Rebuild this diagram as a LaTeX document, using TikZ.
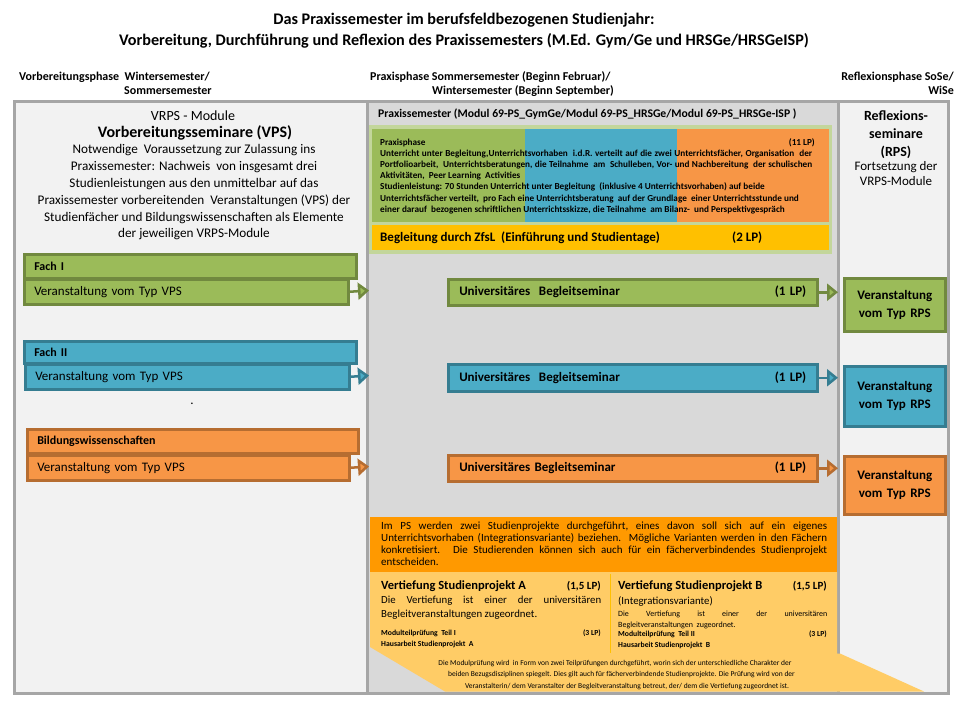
\documentclass[tikz,border=0pt]{standalone}
\usepackage{fontspec}
\setmainfont{Carlito}
\usetikzlibrary{arrows.meta}
\definecolor{frameg}{HTML}{A6A6A6}
\definecolor{lightp}{HTML}{F2F2F2}
\definecolor{midp}{HTML}{D9D9D9}
\definecolor{gfill}{HTML}{9BBB59}
\definecolor{gline}{HTML}{71893F}
\definecolor{bfill}{HTML}{4BACC6}
\definecolor{bline}{HTML}{357D91}
\definecolor{ofill}{HTML}{F79646}
\definecolor{oline}{HTML}{B66D31}
\definecolor{gframe}{HTML}{C3D69B}
\definecolor{zfsl}{HTML}{FFC000}
\definecolor{psband}{HTML}{FF9900}
\definecolor{vert}{HTML}{FFCC66}
\newcommand{\myfs}[1]{\fontsize{#1}{#1}\selectfont}
\newcommand{\jline}[2]{\makebox[#1][s]{#2}}
\tikzset{
  bl/.style={inner sep=0pt, anchor=base west},
  bc/.style={inner sep=0pt, anchor=base},
  br/.style={inner sep=0pt, anchor=base east},
  panel/.style={draw=frameg, line width=3pt},
  gbox/.style={draw=gline, fill=gfill, line width=2.5pt},
  bbox/.style={draw=bline, fill=bfill, line width=2.5pt},
  obox/.style={draw=oline, fill=ofill, line width=2.5pt},
  lbox/.style={inner xsep=10pt, inner ysep=0pt, align=left, anchor=north west},
  ubox/.style={inner xsep=11pt, inner ysep=0pt, align=left, anchor=north west, text width=347pt, font=\bfseries\myfs{13}},
  rbox/.style={inner sep=0pt, align=center, anchor=north west, text width=101pt, font=\bfseries\fontsize{13}{18}\selectfont},
  arr/.style={line width=2.5pt, -{Triangle[length=11pt,width=17pt,fill=#1]}},
  ttl/.style={font=\bfseries\myfs{16.2}},
  phase/.style={font=\bfseries\myfs{12}},
}
\begin{document}
\begin{tikzpicture}[x=1pt,y=-1pt]
\useasboundingbox (0,0) rectangle (960,720);
\fill[white] (0,0) rectangle (960,720);

% title
\node[bc, ttl] (t1) at (464,24) {Das Praxissemester im berufsfeldbezogenen Studienjahr:};
\node[bc, ttl] (t2) at (464,45) {Vorbereitung, Durchführung und Reflexion des Praxissemesters (M.Ed. Gym/Ge und HRSGe/HRSGeISP)};

% phase headers
\node[bl, phase] (ph1a) at (19,80.8) {Vorbereitungsphase\ \ Wintersemester/};
\node[bl, phase] (ph1b) at (124,94.8) {Sommersemester};
\node[bl, phase] (ph2a) at (370,80.8) {Praxisphase Sommersemester (Beginn Februar)/};
\node[bl, phase] (ph2b) at (432,94.8) {Wintersemester (Beginn September)};
\node[br, phase] (ph3a) at (954,80.8) {Reflexionsphase SoSe/};
\node[br, phase] (ph3b) at (954,94.8) {WiSe};

% panels
\filldraw[panel, fill=lightp] (14.5,101.5) rectangle (367,693);
\filldraw[panel, fill=midp] (367,101.5) rectangle (838.5,693);
\filldraw[panel, fill=lightp] (838.5,101.5) rectangle (948,693);

% left panel texts
\node[bc, font=\myfs{14}] (vrps) at (193,120) {VRPS - Module};
\node[bc, font=\bfseries\myfs{16}] (vps) at (195,137.8) {Vorbereitungsseminare (VPS)};
\node[bc, font=\myfs{13.2}] (p1) at (194,153) {Notwendige\ \ Voraussetzung zur Zulassung ins};
\node[bc, font=\myfs{13.2}] (p2) at (194,170) {Praxissemester: Nachweis\ \ von insgesamt drei};
\node[bc, font=\myfs{13.2}] (p3) at (194,187) {Studienleistungen aus den unmittelbar auf das};
\node[bc, font=\myfs{13.2}] (p4) at (194,204) {Praxissemester vorbereitenden\ \ Veranstaltungen (VPS) der};
\node[bc, font=\myfs{13.2}] (p5) at (194,221) {Studienfächer und Bildungswissenschaften als Elemente};
\node[bc, font=\myfs{13.2}] (p6) at (194,237) {der jeweiligen VRPS-Module};

% left boxes
\node[gbox, lbox, text width=312pt, minimum height=24pt, font=\bfseries\myfs{12}] (f1) at (23,253) {Fach I};
\node[gbox, lbox, text width=304pt, minimum height=25pt, font=\myfs{13}] (v1) at (23,278) {Veranstaltung vom Typ VPS};
\node[bbox, lbox, text width=312pt, minimum height=22pt, font=\bfseries\myfs{12}] (f2) at (23,340) {Fach II};
\node[bbox, lbox, text width=304pt, minimum height=25pt, font=\myfs{13}] (v2) at (24,363) {Veranstaltung vom Typ VPS};
\node[obox, lbox, text width=311pt, minimum height=24pt, font=\bfseries\myfs{12}] (f3) at (26,428) {Bildungswissenschaften};
\node[obox, lbox, text width=302pt, minimum height=25pt, font=\myfs{13}] (v3) at (26,454) {Veranstaltung vom Typ VPS};
\node[bc, font=\myfs{13}] (dot) at (192,404) {.};

\coordinate (a1) at (369,290.5);
\coordinate (a2) at (369,375.5);
\coordinate (a3) at (369,466.5);
\draw[arr=gfill, gline] (v1.east) -- (a1);
\draw[arr=bfill, bline] (v2.east) -- (a2);
\draw[arr=ofill, oline] (v3.east) -- (a3);

% middle header
\node[bl, font=\bfseries\myfs{11.7}] (mh) at (378,117.5) {Praxissemester (Modul 69-PS\_GymGe/Modul 69-PS\_HRSGe/Modul 69-PS\_HRSGe-ISP )};

% top colored block
\node[fill=gframe, inner sep=0pt, minimum width=463pt, minimum height=129pt, anchor=north west] (blk) at (369,125) {};
\node[fill=gfill, inner sep=0pt, minimum width=153pt, minimum height=93pt, anchor=north west] (bg1) at (372,129) {};
\node[fill=bfill, inner sep=0pt, minimum width=152pt, minimum height=93pt, anchor=north west] (bg2) at (525,129) {};
\node[fill=ofill, inner sep=0pt, minimum width=152pt, minimum height=93pt, anchor=north west] (bg3) at (677,129) {};
\node[fill=zfsl, inner sep=0pt, minimum width=457pt, minimum height=25pt, anchor=north west] (zf) at (372,225) {};

\begin{scope}[every node/.style={font=\bfseries\myfs{9.2}}]
\node[bl] (l0) at (380,145.3) {Praxisphase};
\node[br] (l0b) at (815,145.3) {(11 LP)};
\node[bl] (l1) at (380,156.3) {\jline{432pt}{Unterricht unter Begleitung,Unterrichtsvorhaben\ \ i.d.R. verteilt auf die zwei Unterrichtsfächer, Organisation\ \ der}};
\node[bl] (l2) at (380,167.3) {\jline{432pt}{Portfolioarbeit,\ \ Unterrichtsberatungen, die Teilnahme\ \ am\ \ Schulleben, Vor- und Nachbereitung\ \ der schulischen}};
\node[bl] (l3) at (380,178.3) {Aktivitäten,\ \ Peer Learning\ \ Activities};
\node[bl] (l4) at (380,189.8) {Studienleistung: 70 Stunden Unterricht unter Begleitung\ \ (inklusive 4 Unterrichtsvorhaben) auf beide};
\node[bl] (l5) at (380,201.3) {Unterrichtsfächer verteilt,\ \ pro Fach eine Unterrichtsberatung\ \ auf der Grundlage\ \ einer Unterrichtsstunde und};
\node[bl] (l6) at (380,212.3) {einer darauf\ \ bezogenen schriftlichen Unterrichtsskizze, die Teilnahme\ \ am Bilanz-\ \ und Perspektivgespräch};
\end{scope}
\node[bl, font=\bfseries\myfs{13}] (zft) at (380,241.2) {Begleitung durch ZfsL\ \ (Einführung und Studientage)};
\node[bl, font=\bfseries\myfs{13}] (zflp) at (732,241.2) {(2 LP)};

% university seminars
\node[gbox, ubox, minimum height=26pt] (u1) at (447,278) {Universitäres\ \ Begleitseminar\hfill(1 LP)};
\node[bbox, ubox, minimum height=27pt] (u2) at (447,363) {Universitäres\ \ Begleitseminar\hfill(1 LP)};
\node[obox, ubox, minimum height=26pt] (u3) at (447,454) {Universitäres Begleitseminar\hfill(1 LP)};

% right panel texts
\node[bc, font=\bfseries\myfs{14}] (rf1) at (896,120.2) {Reflexions-};
\node[bc, font=\bfseries\myfs{14}] (rf2) at (896,138.2) {seminare};
\node[bc, font=\bfseries\myfs{14}] (rf3) at (896,156.2) {(RPS)};
\node[bc, font=\myfs{13}] (rf4) at (896,170.4) {Fortsetzung der};
\node[bc, font=\myfs{13}] (rf5) at (896,185.9) {VRPS-Module};

% RPS boxes
\node[gbox, rbox, minimum height=53pt] (r1) at (843,277) {Veranstaltung\\vom Typ RPS};
\node[bbox, rbox, minimum height=60pt] (r2) at (843,365) {Veranstaltung\\vom Typ RPS};
\node[obox, rbox, minimum height=58pt] (r3) at (843,455) {Veranstaltung\\vom Typ RPS};

\draw[arr=gfill, gline, shorten >=5pt] (u1.east) -- (u1.east -| r1.west);
\draw[arr=bfill, bline, shorten >=5pt] (u2.east) -- (u2.east -| r2.west);
\draw[arr=ofill, oline, shorten >=5pt] (u3.east) -- (u3.east -| r3.west);

% bottom study project area
\fill[vert] (370,572) -- (837,572) -- (837,653.5) -- (840,653.5) -- (924,691.5) -- (445,691.5) -- (370,647) -- cycle;
\node[fill=psband, inner sep=0pt, minimum width=467pt, minimum height=55pt, anchor=north west] (band) at (370,517) {};
\draw[zfsl, line width=1.2pt] (610.5,574) -- (610.5,653);

\begin{scope}[every node/.style={font=\myfs{11}}]
\node[bl] (b1) at (381,529.3) {\jline{446pt}{Im\ \ PS\ \ werden\ \ zwei\ \ Studienprojekte\ \ durchgeführt,\ \ eines\ \ davon\ \ soll\ \ sich\ \ auf\ \ ein\ \ eigenes}};
\node[bl] (b2) at (381,541.3) {\jline{446pt}{Unterrichtsvorhaben (Integrationsvariante) beziehen.\ \ Mögliche Varianten werden in den Fächern}};
\node[bl] (b3) at (381,553.3) {\jline{446pt}{konkretisiert. Die Studierenden können sich auch für ein fächerverbindendes Studienprojekt}};
\node[bl] (b4) at (381,565.3) {entscheiden.};
\end{scope}

% column A
\node[bl, font=\bfseries\myfs{12.5}] (ca1) at (381,589.8) {Vertiefung Studienprojekt A};
\node[br, font=\bfseries\myfs{11}] (ca1lp) at (601,589.8) {(1,5 LP)};
\node[bl, font=\myfs{10.8}] (ca2) at (381,603.5) {\jline{220pt}{Die\ \ Vertiefung\ \ ist\ \ einer\ \ der\ \ universitären}};
\node[bl, font=\myfs{10.8}] (ca3) at (381,617) {Begleitveranstaltungen zugeordnet.};
\node[bl, font=\bfseries\myfs{7.7}] (ca4) at (381,635.5) {Modulteilprüfung\ \ Teil I};
\node[br, font=\bfseries\myfs{7.7}] (ca4lp) at (601,635.5) {(3 LP)};
\node[bl, font=\bfseries\myfs{7.7}] (ca5) at (381,646.5) {Hausarbeit Studienprojekt\ \ A};

% column B
\node[bl, font=\bfseries\myfs{12.5}] (cb1) at (618,589.8) {Vertiefung Studienprojekt B};
\node[br, font=\bfseries\myfs{11}] (cb1lp) at (827,589.8) {(1,5 LP)};
\node[bl, font=\myfs{10.8}] (cb2) at (618,604.3) {(Integrationsvariante)};
\node[bl, font=\myfs{8}] (cb3) at (618,616.4) {\jline{209pt}{Die\ \ Vertiefung\ \ ist\ \ einer\ \ der\ \ universitären}};
\node[bl, font=\myfs{8}] (cb4) at (618,627) {Begleitveranstaltungen\ \ zugeordnet.};
\node[bl, font=\bfseries\myfs{7.7}] (cb5) at (618,636.5) {Modulteilprüfung\ \ Teil II};
\node[br, font=\bfseries\myfs{7.7}] (cb5lp) at (827,636.5) {(3 LP)};
\node[bl, font=\bfseries\myfs{7.7}] (cb6) at (618,647) {Hausarbeit Studienprojekt\ \ B};

% footnote
\begin{scope}[every node/.style={font=\myfs{7.5}}]
\node[bc] (fn1) at (615,665.3) {Die Modulprüfung wird\ \ in Form von zwei Teilprüfungen durchgeführt, worin sich der unterschiedliche Charakter der};
\node[bc] (fn2) at (621.5,676.8) {beiden Bezugsdisziplinen spiegelt. Dies gilt auch für fächerverbindende Studienprojekte. Die Prüfung wird von der};
\node[bc] (fn3) at (627,688.3) {Veranstalterin/ dem Veranstalter der Begleitveranstaltung betreut, der/ dem die Vertiefung zugeordnet ist.};
\end{scope}
\end{tikzpicture}
\end{document}
